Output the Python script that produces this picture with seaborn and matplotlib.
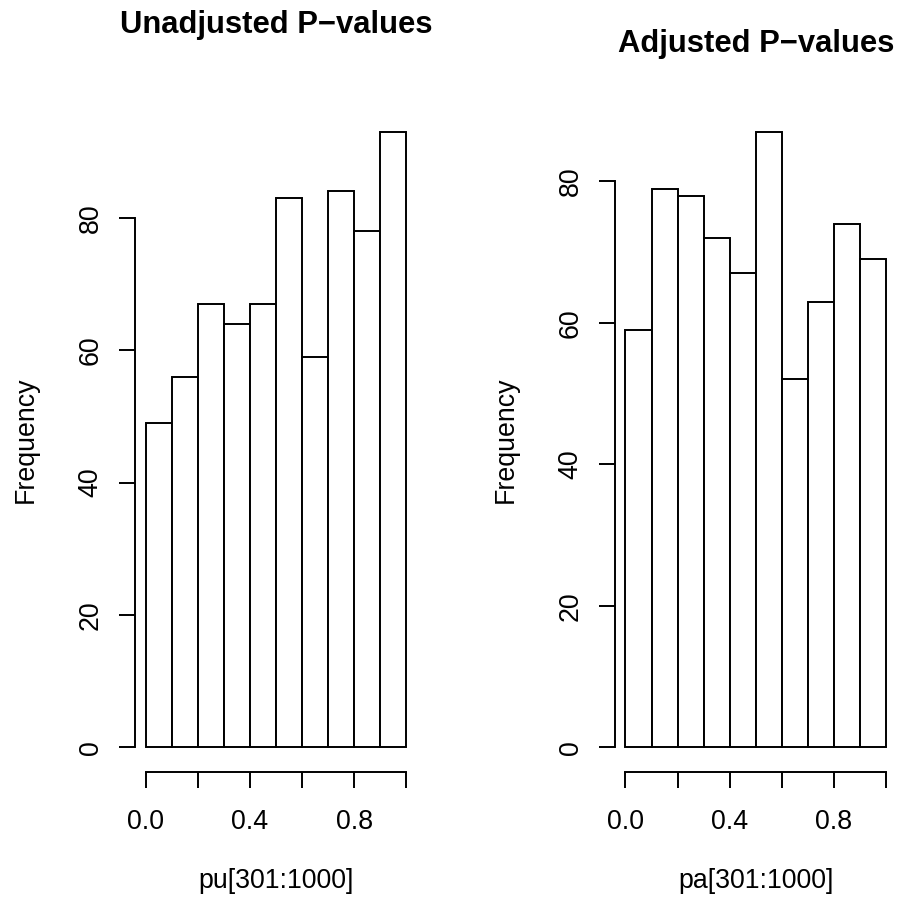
import matplotlib
matplotlib.use("Agg")
import matplotlib.pyplot as plt
import seaborn as sns
import numpy as np

# histogram counts (bins of width 0.1 on [0, 1])
bin_edges = [0.0, 0.1, 0.2, 0.3, 0.4, 0.5, 0.6, 0.7, 0.8, 0.9, 1.0]
unadj_counts = [49, 56, 67, 64, 67, 83, 59, 84, 78, 93]
adj_counts = [59, 79, 78, 72, 67, 87, 52, 63, 74, 69]

titles = ["Unadjusted P\u2212values", "Adjusted P\u2212values"]
xlabels = ["pu[301:1000]", "pa[301:1000]"]
xticks = [0.0, 0.2, 0.4, 0.6, 0.8, 1.0]
xticklabels = ["0.0", "", "0.4", "", "0.8", ""]
yticks = [0, 20, 40, 60, 80]

sns.set_style("white")
plt.rcParams['font.family'] = ['Liberation Sans', 'DejaVu Sans']
plt.rcParams['text.color'] = 'black'
plt.rcParams['axes.labelcolor'] = 'black'

W, H = 901, 905
fig = plt.figure(figsize=(W / 100, H / 100), dpi=100)

# plot regions in pixels (left, top, right, bottom)
regions = [(135.1, 107.3, 416.7, 771.9), (615.0, 107.3, 896.6, 771.9)]
title_baseline = [33, 52]
fs = 19.3

centers = [(a + b) / 2 for a, b in zip(bin_edges[:-1], bin_edges[1:])]

for i, counts in enumerate([unadj_counts, adj_counts]):
    l, t, r, b = regions[i]
    ax = fig.add_axes([l / W, 1 - b / H, (r - l) / W, (b - t) / H])
    sns.histplot(x=centers, weights=counts, bins=bin_edges, ax=ax,
                 color="white", edgecolor="black", linewidth=1.4, alpha=1)
    ymax = max(counts)
    ax.set_xlim(-0.04, 1.04)
    ax.set_ylim(-0.04 * ymax, 1.04 * ymax)

    for s in ["top", "right"]:
        ax.spines[s].set_visible(False)
    ax.spines["left"].set_bounds(0, 80)
    ax.spines["bottom"].set_bounds(0, 1)
    for s in ["left", "bottom"]:
        ax.spines[s].set_linewidth(1.4)
        ax.spines[s].set_color("black")

    ax.set_xticks(xticks)
    ax.set_xticklabels(xticklabels)
    ax.set_yticks(yticks)
    ax.set_yticklabels([str(v) for v in yticks], rotation=90, va="center")
    ax.tick_params(axis="both", direction="out", length=11.5, width=1.4,
                   labelsize=fs, colors="black", left=True, bottom=True)
    ax.tick_params(axis="x", pad=15)
    ax.tick_params(axis="y", pad=11)

    ax.set_xlabel(xlabels[i], fontsize=fs, color="black")
    ax.xaxis.label.set_va("baseline")
    ax.xaxis.set_label_coords(0.5, (b - 888) / (b - t))
    ax.set_ylabel("Frequency", fontsize=fs, color="black")
    ax.yaxis.label.set_va("baseline")
    ax.yaxis.set_label_coords(-102 / (r - l), 0.5)

    fig.text((l + r) / 2 / W, 1 - title_baseline[i] / H, titles[i],
             ha="center", va="baseline", fontsize=22.3, fontweight="bold",
             color="black")

fig.savefig("out.png", dpi=100, facecolor="white")
